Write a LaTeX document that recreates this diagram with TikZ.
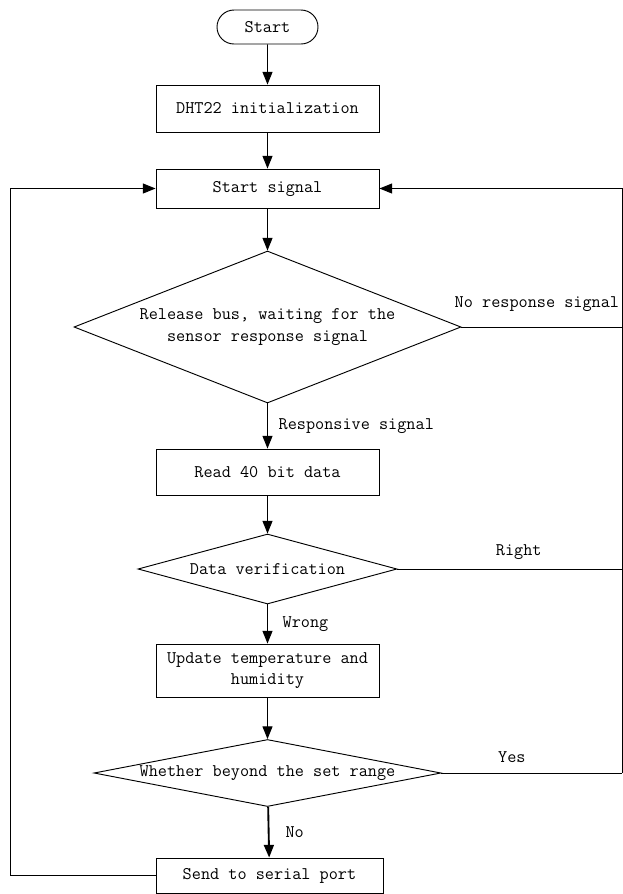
\documentclass[tikz,border=0pt]{standalone}
\usetikzlibrary{arrows.meta,shapes.geometric,shapes.misc}

\tikzset{
  box/.style={draw, rectangle, minimum width=167.25pt, inner sep=0pt, align=center},
  decide/.style={draw, diamond, inner sep=0pt, align=center},
  term/.style={draw, rounded rectangle, minimum width=75.75pt, minimum height=25.5pt, inner sep=0pt},
  arr/.style={-{Triangle[length=9.5pt,width=7.5pt]}},
  lbl/.style={inner sep=0pt},
}

\begin{document}
\begin{tikzpicture}[x=0.75pt, y=-0.75pt, line width=0.7pt, font=\fontsize{13.3}{16}\selectfont\ttfamily]
\useasboundingbox (0,0) rectangle (623,894);

% steps
\node[term] (start) at (267.5,27) {Start};
\node[box, minimum height=35.25pt] (init) at (267.5,108.5) {DHT22 initialization};
\node[box, minimum height=29.25pt] (sig) at (267.5,188.5) {Start signal};
\node[decide, aspect=2.55, minimum width=290.25pt, minimum height=114pt] (d1) at (267.5,327) {Release bus, waiting for the\\sensor response signal};
\node[box, minimum height=34.5pt] (read) at (267.5,472) {Read 40 bit data};
\node[decide, aspect=3.7, minimum width=194.25pt, minimum height=52.5pt] (d2) at (267.5,569) {Data verification};
\node[decide, aspect=5.18, minimum width=260.25pt, minimum height=50.25pt] (d3) at (267.5,773) {Whether beyond the set range};
\node[box, minimum height=39.75pt] (upd) at (267.5,670.5) {Update temperature and\\humidity};
\node[box, minimum width=170.25pt, minimum height=26.25pt] (send) at (269.5,875.5) {Send to serial port};

\coordinate (rtop) at (622,188.5);
\coordinate (ltop) at (10,188.5);

% main flow
\draw[arr] (start) -- (init);
\draw[arr] (init) -- (sig);
\draw[arr] (sig) -- (d1);
\draw[arr] (d1) -- node[lbl, right=8pt] {Responsive signal} (read);
\draw[arr] (read) -- (d2);
\draw[arr] (d2) -- node[lbl, right=11pt] {Wrong} (upd);
\draw[arr] (upd) -- (d3);
\draw[arr, line width=1.4pt] (d3) -- node[lbl, right=12pt] {No} (send);

% back to start signal
\draw (d1.east) -- node[lbl, pos=0.47, above=11pt] {No response signal} (d1.east -| rtop);
\draw (d2.east) -- node[lbl, pos=0.54, above=7pt] {Right} (d2.east -| rtop);
\draw (d3.east) -- node[lbl, pos=0.39, above=7.5pt] {Yes} (d3.east -| rtop);
\draw[arr] (d3.east -| rtop) -- (rtop) -- (sig.east);
\draw[arr] (send.west) -| (ltop) -- (sig.west);

\end{tikzpicture}
\end{document}
